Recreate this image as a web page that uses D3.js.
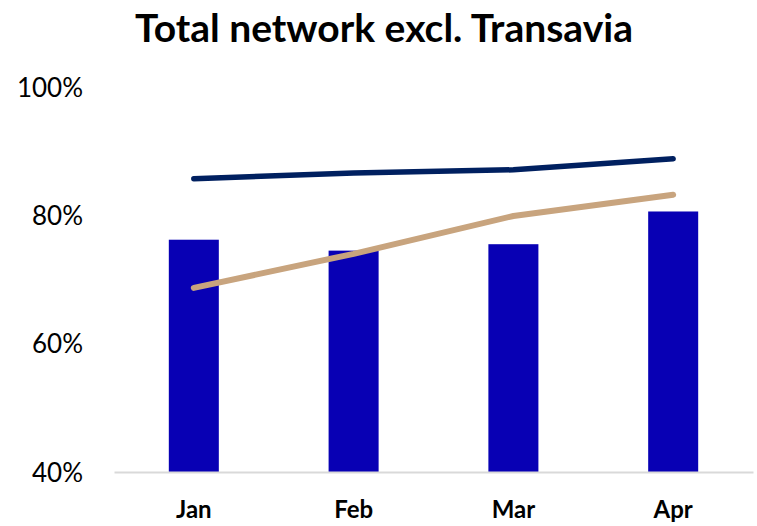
<!DOCTYPE html>
<html>
<head>
<meta charset="utf-8">
<script src="https://cdn.jsdelivr.net/npm/d3@7"></script>
<style>
body{margin:0;background:#fff;font-family:Lato,"Open Sans",sans-serif;}
</style>
</head>
<body>
<main></main>
<script>
const months=["Jan","Feb","Mar","Apr"]
const barValues=[76.2,74.5,75.5,80.6]
const navyValues=[85.7,86.6,87.1,88.8]
const tanValues=[68.7,74.0,79.9,83.2]
const yTicks=[40,60,80,100]

const w=757;
const h=526;
const padLeft=114, padRight=753, padTop=87, padBottom=472;

const svg=d3.select("main")
  .append("svg")
  .attr("width",w)
  .attr("height",h)

svg.append("text")
  .attr("x",384)
  .attr("y",42)
  .attr("text-anchor","middle")
  .style("font-family","Lato")
  .style("font-weight","bold")
  .style("font-size","39px")
  .attr("fill","#000")
  .text("Total network excl. Transavia")

const xScale=d3.scaleBand()
  .domain(months)
  .range([padLeft,padRight])
  .paddingInner(0.687)
  .paddingOuter(0.343)

const xPoint=d=>xScale(d)+xScale.bandwidth()/2

const yScale=d3.scaleLinear()
  .domain([40,100])
  .range([padBottom,padTop])

// y labels
const yAxis=d3.axisLeft(yScale)
  .tickValues(yTicks)
  .tickFormat(d=>d+"%")
  .tickSize(0)
  .tickPadding(0)
const gy=svg.append("g")
  .attr("transform","translate(83,0)")
  .call(yAxis)
gy.select(".domain").remove()
gy.selectAll("text")
  .style("font-family","Lato")
  .style("font-size","26px")
  .attr("fill","#000")
  .attr("dy","0.35em")

// bars
svg.selectAll("rect.bar")
  .data(barValues)
  .enter()
  .append("rect")
  .attr("class","bar")
  .attr("x",(d,i)=>xScale(months[i]))
  .attr("y",d=>yScale(d))
  .attr("width",xScale.bandwidth())
  .attr("height",d=>padBottom-yScale(d))
  .attr("fill","#0800B4")

// x axis
const xAxis=d3.axisBottom(xScale).tickSize(0).tickPadding(0)
const gx=svg.append("g")
  .attr("transform","translate(0,"+padBottom+")")
  .call(xAxis)
gx.select(".domain")
  .attr("stroke","#d9d9d9")
  .attr("stroke-width",2)
gx.selectAll("text")
  .attr("y",46)
  .attr("dy","0")
  .style("font-family","Lato")
  .style("font-weight","bold")
  .style("font-size","24px")
  .attr("fill","#000")

const line=d3.line()
  .x((d,i)=>xPoint(months[i]))
  .y(d=>yScale(d))

svg.append("path")
  .datum(navyValues)
  .attr("d",line)
  .attr("fill","none")
  .attr("stroke","#002060")
  .attr("stroke-width",5.5)
  .attr("stroke-linecap","round")
  .attr("stroke-linejoin","round")

svg.append("path")
  .datum(tanValues)
  .attr("d",line)
  .attr("fill","none")
  .attr("stroke","#C8A47E")
  .attr("stroke-width",6)
  .attr("stroke-linecap","round")
  .attr("stroke-linejoin","round")
</script>
</body>
</html>
